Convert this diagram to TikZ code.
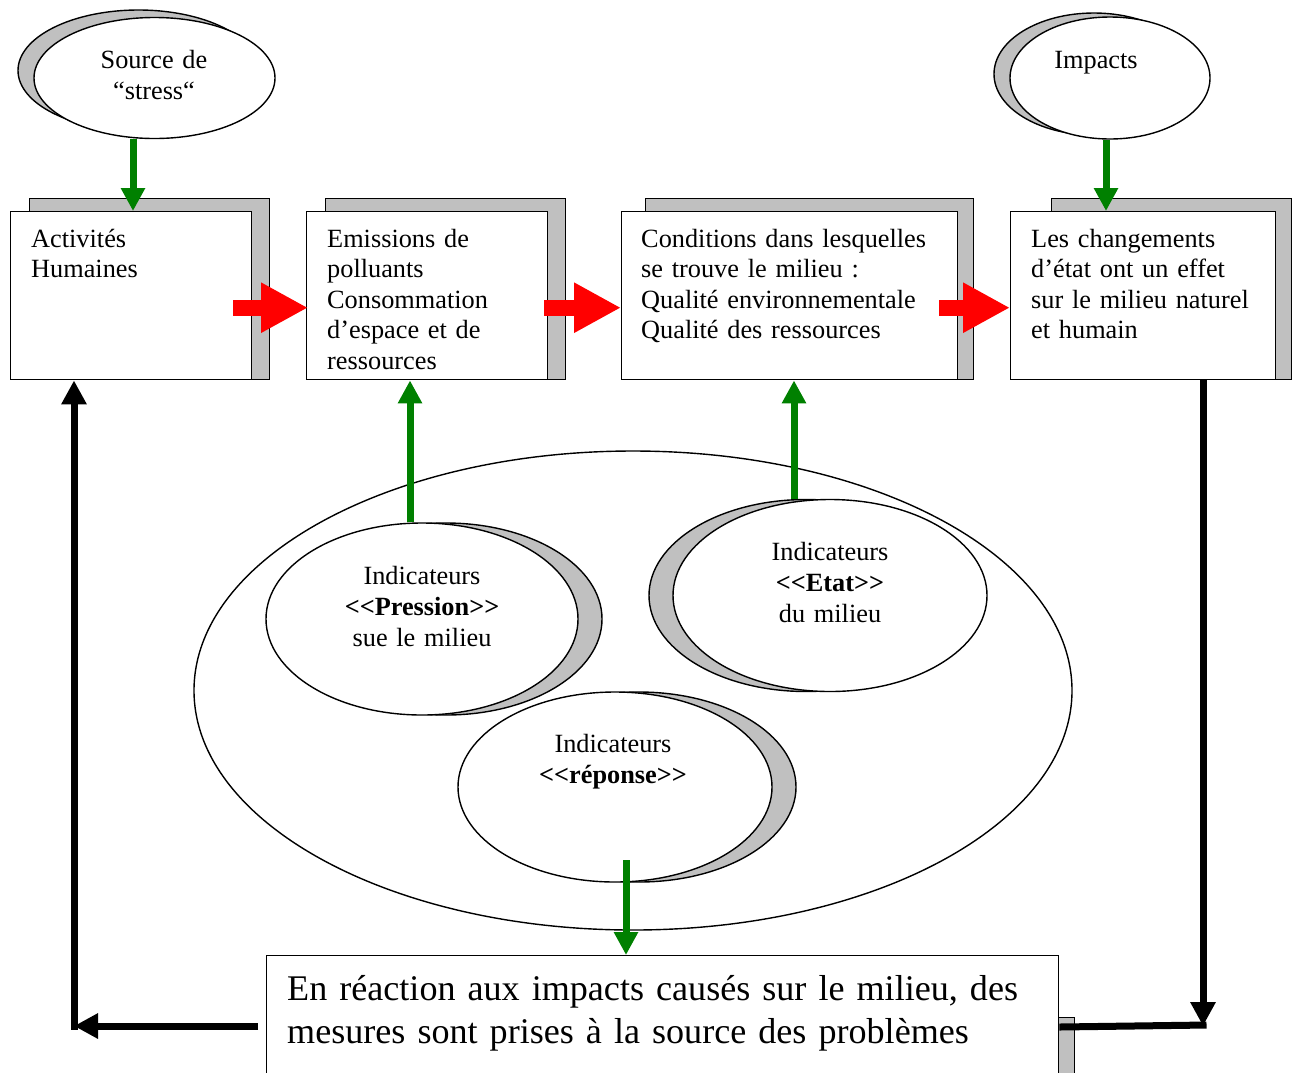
\documentclass[tikz,border=0pt]{standalone}
\usepackage{fontspec}
\setmainfont{Liberation Serif}
\usetikzlibrary{arrows.meta,calc,shapes.geometric}
\definecolor{shade}{RGB}{192,192,192}
\definecolor{okgreen}{RGB}{0,128,0}
\begin{document}
\begin{tikzpicture}[x=1pt,y=-1pt,
  outline/.style={draw=black,line width=1.4pt},
  shadowbox/.style={outline,fill=shade,rectangle,inner sep=0pt,anchor=north west},
  mainbox/.style={outline,fill=white,rectangle,inner sep=0pt,anchor=north west},
  shadowoval/.style={outline,fill=shade,ellipse,inner sep=0pt},
  mainoval/.style={outline,fill=white,ellipse,inner sep=0pt},
  boxtext/.style={inner sep=0pt,anchor=base west,text width=330pt,align=left,
    font=\fontsize{26.3}{30.5}\selectfont},
  ovaltext/.style={inner sep=0pt,anchor=base,text width=260pt,align=center,
    font=\fontsize{26.3}{31}\selectfont},
  bigtext/.style={inner sep=0pt,anchor=base west,text width=800pt,align=left,
    font=\fontsize{36.1}{43}\selectfont},
  greenarrow/.style={draw=okgreen,line width=7pt,-{Triangle[length=23pt,width=23pt]}},
  blackarrow/.style={draw=black,line width=7pt,-{Triangle[length=24pt,width=24pt]}},
  redarrow/.style={draw=red,line width=16pt,-{Triangle[length=47pt,width=47pt]}}
]
\useasboundingbox (0,0) rectangle (1297,1072);
\clip (0,0) rectangle (1297,1072);

% ---- top ovals ----
\node[shadowoval,minimum width=241pt,minimum height=121pt] (srcsh) at (138.5,70.5) {};
\node[mainoval,minimum width=241pt,minimum height=121pt] (src) at (154.5,78) {};
\node[ovaltext] (srct) at (154,68) {Source de\\“stress“};

\node[shadowoval,minimum width=200pt,minimum height=122pt] (impsh) at (1094,74) {};
\node[mainoval,minimum width=200pt,minimum height=122pt] (imp) at (1110,78) {};
\node[ovaltext] (impt) at (1096,68) {Impacts};

% ---- chain of boxes ----
\node[shadowbox,minimum width=240pt,minimum height=181pt] (b1sh) at (29,198) {};
\node[mainbox,minimum width=241pt,minimum height=168pt] (b1) at (10,211) {};
\node[boxtext] (b1t) at (31,247) {Activités\\Humaines};

\node[shadowbox,minimum width=240pt,minimum height=181pt] (b2sh) at (325,198) {};
\node[mainbox,minimum width=241pt,minimum height=168pt] (b2) at (306,211) {};
\node[boxtext] (b2t) at (327,247) {Emissions de\\polluants\\Consommation\\d’espace et de\\ressources};

\node[shadowbox,minimum width=328pt,minimum height=181pt] (b3sh) at (645,198) {};
\node[mainbox,minimum width=336pt,minimum height=168pt] (b3) at (621,211) {};
\node[boxtext] (b3t) at (641,247) {Conditions dans lesquelles\\se trouve le milieu :\\Qualité environnementale\\Qualité des ressources};

\node[shadowbox,minimum width=240pt,minimum height=181pt] (b4sh) at (1051,198) {};
\node[mainbox,minimum width=265pt,minimum height=168pt] (b4) at (1010,211) {};
\node[boxtext] (b4t) at (1031,247) {Les changements\\d’état ont un effet\\sur le milieu naturel\\et humain};

% ---- red flow arrows between boxes ----
\draw[redarrow] ($(b1.east)+(-19,12)$) -- ($(b2.west)+(2,12)$);
\draw[redarrow] ($(b2.east)+(-4,12)$) -- ($(b3.west)+(0,12)$);
\draw[redarrow] ($(b3.east)+(-19,12)$) -- ($(b4.west)+(0,12)$);

% ---- indicator group ----
\node[outline,ellipse,inner sep=0pt,minimum width=878pt,minimum height=479pt] (group) at (633,690.5) {};

\node[shadowoval,minimum width=312pt,minimum height=192pt] (pressh) at (446,619) {};
\node[mainoval,minimum width=312pt,minimum height=192pt] (pres) at (422,619) {};
\node[ovaltext] (prest) at (422,584) {Indicateurs\\\textbf{<{}<Pression>{}>}\\sue le milieu};

\node[shadowoval,minimum width=314pt,minimum height=192pt] (etatsh) at (806,595.5) {};
\node[mainoval,minimum width=314pt,minimum height=192pt] (etat) at (830,595.5) {};
\node[ovaltext] (etatt) at (830,560) {Indicateurs\\\textbf{<{}<Etat>{}>}\\du milieu};

\node[shadowoval,minimum width=314pt,minimum height=190pt] (repsh) at (639,787) {};
\node[mainoval,minimum width=314pt,minimum height=190pt] (rep) at (615,787) {};
\node[ovaltext] (rept) at (613,752) {Indicateurs\\\textbf{<{}<réponse>{}>}};

% ---- response box ----
\node[shadowbox,minimum width=792pt,minimum height=90pt] (botsh) at (282,1017) {};
\node[mainbox,minimum width=792pt,minimum height=150pt] (bot) at (266,955) {};
\node[bigtext] (bott) at (287,1000) {En réaction aux impacts causés sur le milieu, des\\mesures sont prises à la source des problèmes};

% ---- green arrows ----
\coordinate (gsrc) at (133,0);
\coordinate (gimp) at (1106,0);
\coordinate (gpres) at (410,0);
\coordinate (getat) at (794,0);
\coordinate (grep) at (626,860);
\draw[greenarrow] (src.south -| gsrc) -- (b1.north -| gsrc);
\draw[greenarrow] (imp.south -| gimp) -- (b4.north -| gimp);
\draw[greenarrow] (pres.north -| gpres) -- (b2.south -| gpres);
\draw[greenarrow] (etat.north -| getat) -- (b3.south -| getat);
\draw[greenarrow] (grep) -- (bot.north -| grep);

% ---- feedback loop ----
\coordinate (cornerl) at (74,1026);
\coordinate (cornerr) at (1203,1026);
\draw[blackarrow] ($(bot.west |- cornerl)+(-8,0)$) -- (cornerl);
\draw[blackarrow] ($(cornerl)+(0,3.5)$) -- (b1.south -| cornerl);
\draw[blackarrow] (b4.south -| cornerr) -- (cornerr);
\draw[draw=black,line width=7pt] ($(bot.east |- cornerr)+(0,1)$) -- ($(cornerr)+(3.5,-1)$);
\end{tikzpicture}
\end{document}
